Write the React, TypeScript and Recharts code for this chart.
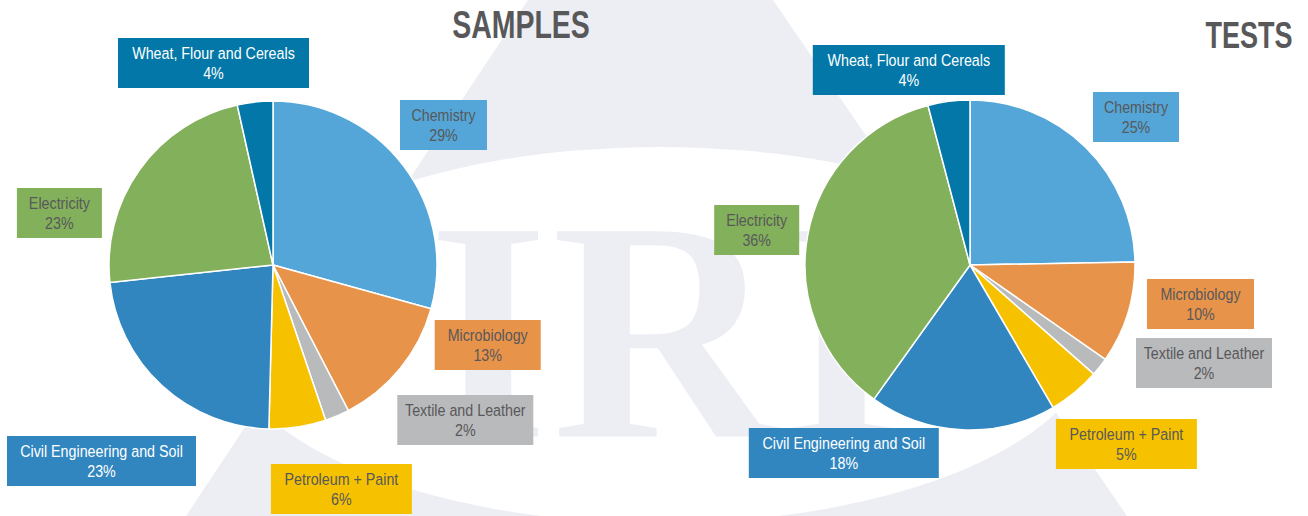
import { PieChart, Pie, Cell } from "recharts";

const CATEGORIES = [
  "Chemistry",
  "Microbiology",
  "Textile and Leather",
  "Petroleum + Paint",
  "Civil Engineering and Soil",
  "Electricity",
  "Wheat, Flour and Cereals",
];
const SAMPLES = [29.3, 13.1, 2.4, 5.6, 22.9, 23.2, 3.5];
const TESTS = [24.7, 10.0, 1.8, 5.1, 18.3, 36.0, 4.1];

const SLICE_COLORS = ["#53a6d7", "#e8934a", "#b9babc", "#f6c200", "#3186c0", "#83b05b", "#0277a8"];
const LABEL_INK = ["#58585a", "#58585a", "#58585a", "#58585a", "#ffffff", "#58585a", "#ffffff"];

// label boxes, [dx, dy, width] measured from the pie centre
const SAMPLE_BOXES = [
  [170.5, -140, 87],
  [214.7, 80, 106],
  [192.3, 155, 136],
  [68.4, 224, 141],
  [-171.5, 196, 189],
  [-213.6, -52, 85],
  [-59.5, -202, 191],
];
const TEST_BOXES = [
  [166, -148, 86],
  [230.5, 39, 107],
  [234, 98, 136],
  [156.4, 179, 141],
  [-126.2, 188, 190],
  [-213.3, -35, 85],
  [-61.2, -195, 192],
];

// no narrow face installed, so squeeze Liberation Sans horizontally
const FONT = '"Liberation Sans", Arial, sans-serif';
const NARROW = 0.84;
const TITLE_NARROW = 0.73;
const WATERMARK = "#edeef4";

const samplesData = CATEGORIES.map((name, i) => ({ name, value: SAMPLES[i] }));
const testsData = CATEGORIES.map((name, i) => ({ name, value: TESTS[i] }));

function makeLabel(boxes: number[][]) {
  return (props: any) => {
    const { cx, cy, index, name, percent } = props;
    const [dx, dy, w] = boxes[index];
    const x = cx + dx;
    const y = cy + dy;
    const h = 50;
    return (
      <g key={`lbl-${index}`}>
        <rect x={x - w / 2} y={y - h / 2} width={w} height={h} fill={SLICE_COLORS[index]} />
        <g transform={`translate(${x},${y}) scale(${NARROW},1)`}>
          <text x={0} y={-4} textAnchor="middle" fontFamily={FONT} fontSize={17} fill={LABEL_INK[index]}>
            {name}
          </text>
          <text x={0} y={16} textAnchor="middle" fontFamily={FONT} fontSize={17} fill={LABEL_INK[index]}>
            {`${Math.round(percent * 100)}%`}
          </text>
        </g>
      </g>
    );
  };
}

function Backdrop() {
  return (
    <svg width={1308} height={516} style={{ position: "absolute", left: 0, top: 0 }}>
      <polygon points="528,0 773,0 1127,516 186,516" fill={WATERMARK} />
      <ellipse cx={660} cy={335} rx={435} ry={188} fill="#ffffff" />
      <text
        x={665}
        y={438}
        textAnchor="middle"
        fontFamily='"Liberation Serif", "DejaVu Serif", serif'
        fontWeight="bold"
        fontSize={318}
        fill={WATERMARK}
        stroke="#ffffff"
        strokeWidth={3}
      >
        IRI
      </text>
      <g transform={`translate(521,38) scale(${TITLE_NARROW},1)`}>
        <text x={0} y={0} textAnchor="middle" fontFamily={FONT} fontWeight="bold" fontSize={39} fill="#58585a">
          SAMPLES
        </text>
      </g>
      <g transform={`translate(1249,48) scale(${TITLE_NARROW},1)`}>
        <text x={0} y={0} textAnchor="middle" fontFamily={FONT} fontWeight="bold" fontSize={37} fill="#58585a">
          TESTS
        </text>
      </g>
    </svg>
  );
}

export default function App() {
  return (
    <div
      style={{
        position: "absolute",
        left: 0,
        top: 0,
        width: 1308,
        height: 516,
        background: "#ffffff",
        overflow: "hidden",
      }}
    >
      <Backdrop />
      <div style={{ position: "absolute", left: 0, top: 0 }}>
        <PieChart width={1308} height={516} margin={{ top: 0, right: 0, bottom: 0, left: 0 }}>
          <Pie
            data={samplesData}
            dataKey="value"
            nameKey="name"
            cx={273}
            cy={265}
            outerRadius={164}
            startAngle={90}
            endAngle={-270}
            stroke="#ffffff"
            strokeWidth={1.5}
            labelLine={false}
            label={makeLabel(SAMPLE_BOXES)}
            isAnimationActive={false}
          >
            {samplesData.map((d, i) => (
              <Cell key={d.name} fill={SLICE_COLORS[i]} />
            ))}
          </Pie>
          <Pie
            data={testsData}
            dataKey="value"
            nameKey="name"
            cx={970}
            cy={265}
            outerRadius={165}
            startAngle={90}
            endAngle={-270}
            stroke="#ffffff"
            strokeWidth={1.5}
            labelLine={false}
            label={makeLabel(TEST_BOXES)}
            isAnimationActive={false}
          >
            {testsData.map((d, i) => (
              <Cell key={d.name} fill={SLICE_COLORS[i]} />
            ))}
          </Pie>
        </PieChart>
      </div>
    </div>
  );
}
